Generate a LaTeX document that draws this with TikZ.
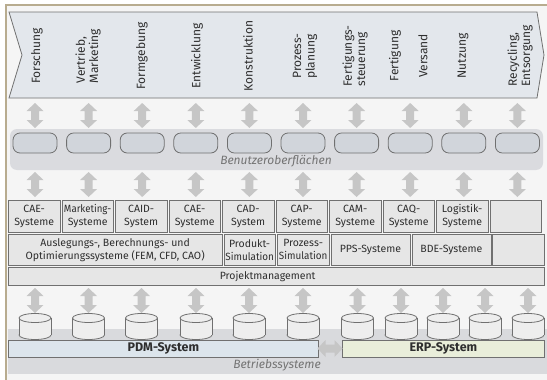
\documentclass[tikz,border=0pt]{standalone}
\usepackage{fontspec}
\setmainfont{Fira Sans}
\definecolor{cframe}{HTML}{B8AC8F}
\definecolor{cbg}{HTML}{F5F5F5}
\definecolor{cchev}{HTML}{E3E7EC}
\definecolor{cline}{HTML}{707070}
\definecolor{carrow}{HTML}{C6C6C6}
\definecolor{cpanel}{HTML}{DADBDF}
\definecolor{cui}{HTML}{D1D5DB}
\definecolor{csys}{HTML}{E6E6E6}
\definecolor{cband}{HTML}{D9DADD}
\definecolor{cpdm}{HTML}{DCE5EC}
\definecolor{cerp}{HTML}{E9EEDA}
\definecolor{ccyl}{HTML}{EEEEEE}
\definecolor{ctxt}{HTML}{2E2E2E}
\definecolor{citx}{HTML}{747474}
\begin{document}
\begin{tikzpicture}[x=1pt,y=-1pt,
  lab/.style={rotate=90, align=left, text=ctxt, inner sep=0, font=\fontsize{12}{13.3}\selectfont},
  sysbox/.style={draw=cline, line width=0.8pt, fill=csys, inner sep=0, align=center, text=ctxt,
    font=\fontsize{10.5}{13}\selectfont, anchor=north west},
  uibox/.style={draw=cline, line width=0.8pt, fill=cui, rounded corners=7pt, minimum width=44pt, minimum height=20pt, inner sep=0},
  itxt/.style={text=citx, font=\itshape\fontsize{12}{14}\selectfont, inner sep=0},
  bigbox/.style={draw=cline, line width=0.8pt, inner sep=0, text=ctxt, font=\bfseries\fontsize{12.5}{14}\selectfont},
  varrow/.pic={\fill[carrow] (0,-12.5) -- (-8.5,-4.5) -- (-4,-4.5) -- (-4,4.5) -- (-8.5,4.5) -- (0,12.5) -- (8.5,4.5) -- (4,4.5) -- (4,-4.5) -- (8.5,-4.5) -- cycle;},
]
\useasboundingbox (0,0) rectangle (547,380);
\fill[white] (0,0) rectangle (547,380);
\fill[cbg] (5,4) rectangle (547,380);
\draw[cframe, line width=1.6pt] (5.8,380) -- (5.8,4.8) -- (547,4.8);

% process chevron
\draw[cline, fill=cchev, line width=0.8pt] (9,12) -- (537,12) -- (544,55) -- (537,98) -- (9,98) -- (22,55) -- cycle;
\node[lab] (l1) at (37,56) {Forschung};
\node[lab] (l2) at (88,56) {Vertrieb,\\Marketing};
\node[lab] (l3) at (142,56) {Formgebung};
\node[lab] (l4) at (197,56) {Entwicklung};
\node[lab] (l5) at (248,56) {Konstruktion};
\node[lab] (l6) at (305,56) {Prozess-\\planung};
\node[lab] (l7) at (355,56) {Fertigungs-\\steuerung};
\node[lab] (l8) at (395,56) {Fertigung};
\node[lab] (l9) at (423,56) {Versand};
\node[lab] (l10) at (463,56) {Nutzung};
\node[lab] (l11) at (520,56) {Recycling,\\Entsorgung};

% user interfaces
\fill[cpanel] [rounded corners=7pt] (10,129) rectangle (543,170);
\foreach \i in {0,...,9}{
  \pic (ua\i) at ({35+53.6*\i},115.5) {varrow};
  \node[uibox] (u\i) at ({35+53.6*\i},143) {};
  \pic (ub\i) at ({35+53.6*\i},184.5) {varrow};
}
\node[itxt] (ui) at (276,161) {Benutzeroberflächen};

% systems row 1
\foreach \t [count=\i from 0] in {{CAE-\\Systeme},{\scalebox{0.92}[1]{Marketing-}\\Systeme},{CAID-\\System},{CAE-\\Systeme},{CAD-\\System},{CAP-\\Systeme},{CAM-\\Systeme},{CAQ-\\Systeme},{Logistik-\\Systeme},{}}{
  \node[sysbox, minimum width=51.5pt, minimum height=32pt] (s\i) at ({8+53.5*\i},200) {\t};
}
% systems row 2
\node[sysbox, minimum width=213.5pt, minimum height=31pt] (r1) at (8,234) {Auslegungs-, Berechnungs- und\\Optimierungssysteme (FEM, CFD, CAO)};
\node[sysbox, minimum width=51.5pt, minimum height=31pt] (r2) at (223.5,234) {Produkt-\\\scalebox{0.94}[1]{Simulation}};
\node[sysbox, minimum width=51.5pt, minimum height=31pt] (r3) at (277,234) {Prozess-\\\scalebox{0.94}[1]{Simulation}};
\node[sysbox, minimum width=79pt, minimum height=31pt] (r4) at (330.5,234) {PPS-Systeme};
\node[sysbox, minimum width=79pt, minimum height=31pt] (r5) at (411.5,234) {BDE-Systeme};
\node[sysbox, minimum width=51.5pt, minimum height=31pt] (r6) at (492,234) {};
% project management
\node[sysbox, minimum width=535.5pt, minimum height=18pt, inner xsep=0] (pm) at (8,267) {\hspace*{-17pt}Projektmanagement};

% operating systems band
\fill[cband] (7.5,329) rectangle (547,373.5);
\node[bigbox, fill=cpdm, minimum width=310pt, minimum height=17.5pt, anchor=north west] (pdm) at (8,339.5) {PDM-System};
\node[bigbox, fill=cerp, minimum width=202pt, minimum height=17.5pt, anchor=north west] (erp) at (342,339.5) {ERP-System};
\pic[rotate=90] (h) at (330,348.5) {varrow};
\node[itxt] (os) at (277,365.5) {Betriebssysteme};

% databases
\foreach \x [count=\i] in {35,88.5,141.5,196,249,303,357.5,401,443,485,528}{
  \fill[ccyl] (\x-16,318) rectangle (\x+16,335);
  \draw[cline, fill=ccyl, line width=0.8pt] (\x,335) ellipse [x radius=16, y radius=4.5];
  \fill[ccyl] (\x-15.5,318) rectangle (\x+15.5,335);
  \draw[cline, line width=0.8pt] (\x-16,318) -- (\x-16,335) (\x+16,318) -- (\x+16,335);
  \draw[cline, fill=ccyl, line width=0.8pt] (\x,318) ellipse [x radius=16, y radius=4.5];
  \coordinate (d\i) at (\x,318);
  \pic (da\i) at (\x,300.5) {varrow};
}
\end{tikzpicture}
\end{document}
